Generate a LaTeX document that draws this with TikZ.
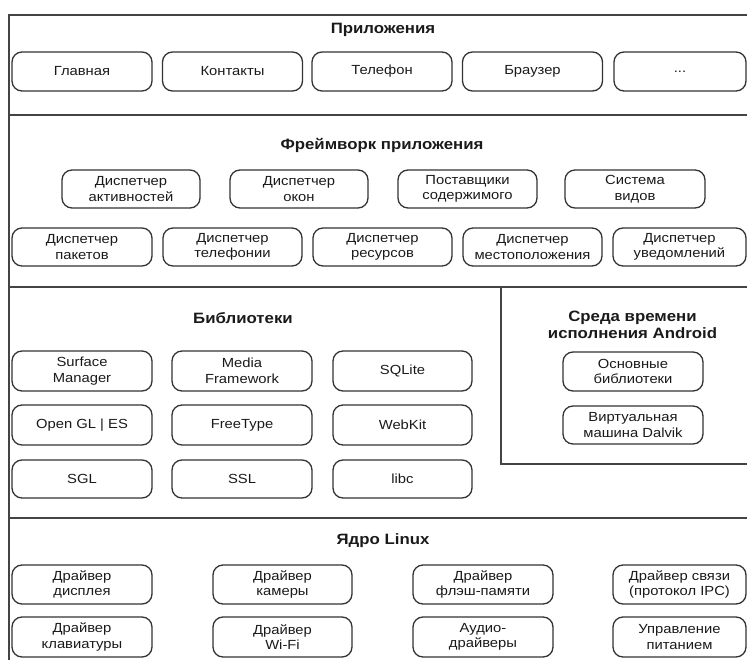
\documentclass[tikz,border=0pt]{standalone}
\usepackage{fontspec}
\setmainfont[FakeStretch=1.12]{Liberation Sans}
\definecolor{framec}{HTML}{444444}
\definecolor{boxc}{HTML}{333333}
\definecolor{txtc}{HTML}{1A1A1A}
\begin{document}
\begin{tikzpicture}[x=1pt,y=-1pt,
  comp/.style={draw=boxc, line width=1.3pt, rounded corners=10pt, minimum width=140pt, minimum height=39pt,
    align=center, inner sep=1pt, text=txtc, font=\fontsize{13.2}{15.5}\selectfont},
  compn/.style={comp, minimum width=133pt},
  ttl/.style={text=txtc, align=center, font=\fontsize{15}{17}\selectfont\bfseries},
  frm/.style={draw=framec, line width=1.8pt}]
\useasboundingbox (0,0) rectangle (747,660);
% frame
\draw[frm] (9,660) -- (9,15) -- (748,15);
\draw[frm] (9,115) -- (748,115);
\draw[frm] (9,287) -- (748,287);
\draw[frm] (9,518) -- (748,518);
\draw[frm] (501,287) -- (501,464) -- (748,464);
% Applications
\node[ttl] (tapp) at (383,30) {Приложения};
\node[comp] (a1) at (82,71.5) {Главная};
\node[comp] (a2) at (232.5,71.5) {Контакты};
\node[comp] (a3) at (382,71.5) {Телефон};
\node[comp] (a4) at (532.5,71.5) {Браузер};
\node[compn,minimum width=132pt] (a5) at (680,71.5) {...};
% Framework
\node[ttl] (tfw) at (382,145) {Фреймворк приложения};
\node[comp,minimum width=138pt,minimum height=38pt] (f1) at (131,189) {Диспетчер\\активностей};
\node[comp,minimum width=138pt,minimum height=38pt] (f2) at (299,189) {Диспетчер\\окон};
\node[comp,minimum width=139pt,minimum height=38pt] (f3) at (467.5,189) {Поставщики\\содержимого};
\node[comp,minimum height=38pt] (f4) at (635,189) {Система\\видов};
\node[comp,minimum height=38pt] (f5) at (82,247) {Диспетчер\\пакетов};
\node[comp,minimum width=139pt,minimum height=38pt] (f6) at (232.5,247) {Диспетчер\\телефонии};
\node[comp,minimum width=139pt,minimum height=38pt] (f7) at (382.5,247) {Диспетчер\\ресурсов};
\node[comp,minimum width=139pt,minimum height=38pt] (f8) at (532.5,247) {Диспетчер\\местоположения};
\node[compn,minimum height=38pt] (f9) at (679.5,247) {Диспетчер\\уведомлений};
% Libraries
\node[ttl] (tlib) at (243,318) {Библиотеки};
\node[comp,minimum height=40pt] (l1) at (82,371) {Surface\\Manager};
\node[comp,minimum height=40pt] (l2) at (242,371) {Media\\Framework};
\node[comp,minimum width=139pt,minimum height=40pt] (l3) at (402.5,371) {SQLite};
\node[comp,minimum height=40pt] (l4) at (82,425) {Open GL | ES};
\node[comp,minimum height=40pt] (l5) at (242,425) {FreeType};
\node[comp,minimum width=139pt,minimum height=40pt] (l6) at (402.5,425) {WebKit};
\node[comp,minimum height=38pt] (l7) at (82,479) {SGL};
\node[comp,minimum height=38pt] (l8) at (242,479) {SSL};
\node[comp,minimum width=139pt,minimum height=38pt] (l9) at (402.5,479) {libc};
% Runtime
\node[ttl] (trt) at (632.5,325) {Среда времени\\исполнения Android};
\node[comp] (r1) at (633,371.5) {Основные\\библиотеки};
\node[comp,minimum height=38pt] (r2) at (633,425) {Виртуальная\\машина Dalvik};
% Kernel
\node[ttl] (tk) at (383,541) {Ядро Linux};
\node[comp] (k1) at (82,584.5) {Драйвер\\дисплея};
\node[comp,minimum width=139pt] (k2) at (282.5,584.5) {Драйвер\\камеры};
\node[comp] (k3) at (483,584.5) {Драйвер\\флэш-памяти};
\node[compn] (k4) at (679.5,584.5) {Драйвер связи\\(протокол IPC)};
\node[comp,minimum height=40pt] (k5) at (82,637) {Драйвер\\клавиатуры};
\node[comp,minimum width=139pt,minimum height=40pt] (k6) at (282.5,637) {Драйвер\\Wi-Fi};
\node[comp,minimum height=40pt] (k7) at (483,637) {Аудио-\\драйверы};
\node[compn,minimum height=40pt] (k8) at (679.5,637) {Управление\\питанием};
\end{tikzpicture}
\end{document}
